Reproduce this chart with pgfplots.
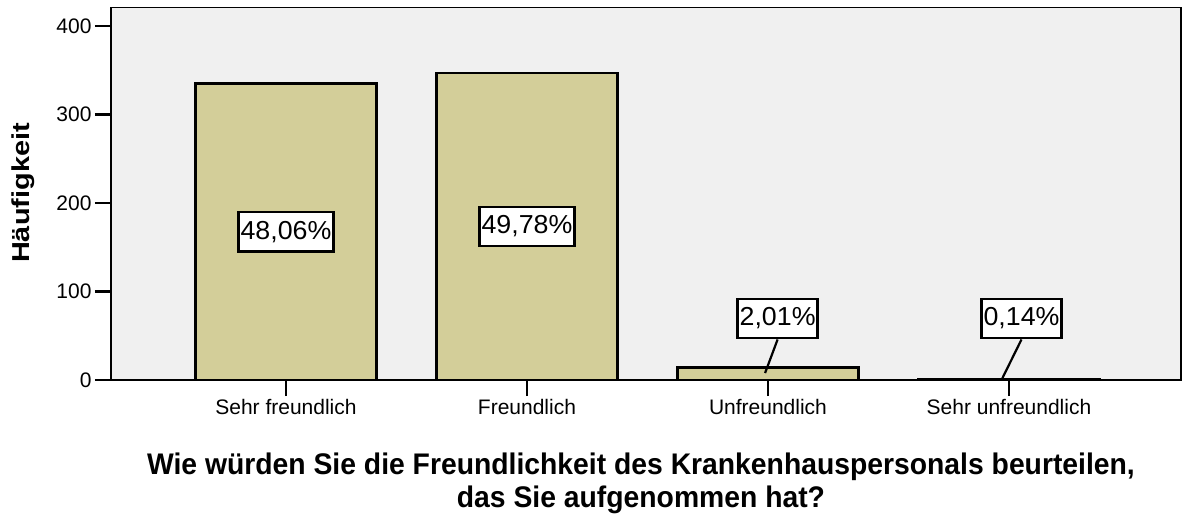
\documentclass[border=0pt]{standalone}
\usepackage{fontspec}
\setmainfont{Liberation Sans}
\newfontfamily\lblfont[FakeStretch=1.03]{Liberation Sans}
\newfontfamily\titlefont[FakeStretch=0.95]{Liberation Sans}
\newfontfamily\yfont[FakeStretch=1.18]{Liberation Sans}
\usepackage{pgfplots}
\pgfplotsset{compat=1.18}
\definecolor{barfill}{RGB}{211,206,153}
\definecolor{plotbg}{RGB}{240,240,240}
\tikzset{lbl/.style={draw=black, fill=white, line width=2.4pt, inner xsep=2pt, inner ysep=0pt,
    minimum height=39.5pt, minimum width=80pt, font=\lblfont\fontsize{26}{30}\selectfont}}

\begin{document}
\begin{tikzpicture}
\begin{axis}[
  scale only axis,
  width=1070pt, height=372.5pt,
  xmin=-0.726, xmax=3.714,
  ymin=0, ymax=421,
  axis background/.style={fill=plotbg},
  axis line style={line width=1.5pt, black},
  ytick={0,100,200,300,400},
  xtick={0,1,2,3},
  xticklabels={Sehr freundlich, Freundlich, Unfreundlich, Sehr unfreundlich},
  xtick pos=bottom, ytick pos=left,
  tick align=outside,
  major tick length=16pt,
  tick style={line width=2.4pt, black},
  tick label style={font=\fontsize{21}{25}\selectfont},
  /pgf/number format/assume math mode=true,
  ylabel={\textbf{Häufigkeit}},
  ylabel style={font=\yfont\fontsize{24.5}{28}\selectfont, at={(rel axis cs:0,0.502)}, anchor=center, yshift=88pt},
  xlabel={\textbf{Wie würden Sie die Freundlichkeit des Krankenhauspersonals beurteilen,}\\\textbf{das Sie aufgenommen hat?}},
  xlabel style={font=\titlefont\fontsize{29.8}{33}\selectfont, align=center, inner sep=0pt,
    at={(rel axis cs:0.4953,0)}, anchor=north, yshift=-73pt},
]
\addplot[ybar, bar width=181pt, draw=black, line width=2.5pt, fill=barfill]
  coordinates {(0,335) (1,347) (2,14) (3,1)};

\node[lbl] at (axis cs:0,167.5) {48,06\%};
\node[lbl] at (axis cs:1,173.5) {49,78\%};
\node[lbl] (n3) at (axis cs:2.04,69.5) {2,01\%};
\node[lbl] (n4) at (axis cs:3.052,69.5) {0,14\%};
\draw[line width=2.2pt] (n3.south) -- (axis cs:1.988,7.9);
\draw[line width=2.2pt] (n4.south) -- (axis cs:2.971,1.1);
\end{axis}
\pgfresetboundingbox
\path (-111pt,-137pt) rectangle (1071pt,380pt);
\end{tikzpicture}
\end{document}
